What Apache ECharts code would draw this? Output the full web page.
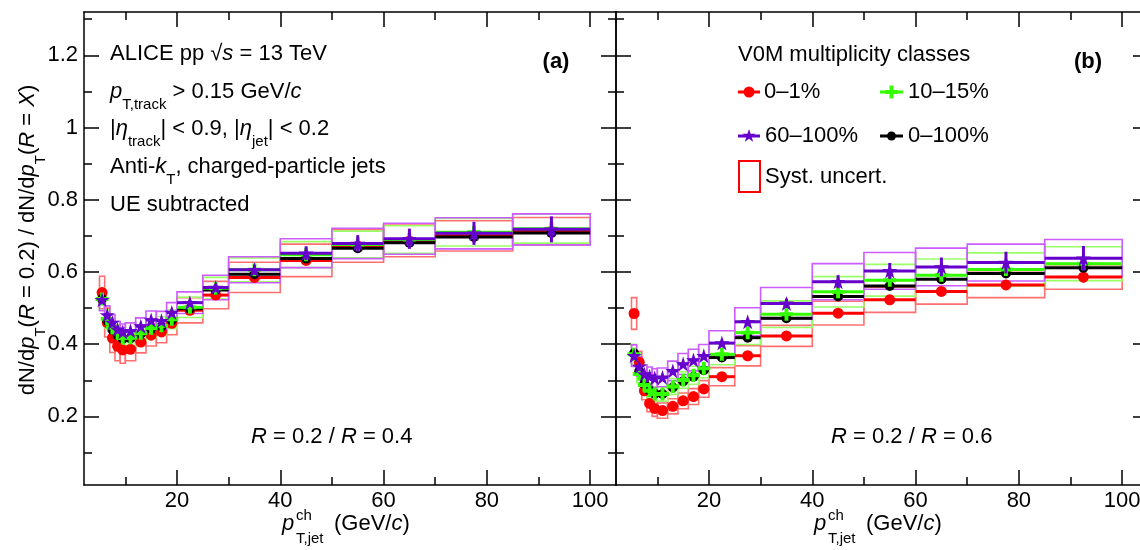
<!DOCTYPE html>
<html>
<head>
<meta charset="utf-8">
<script src="https://cdn.jsdelivr.net/npm/echarts@6/dist/echarts.min.js"></script>
<style>html,body{margin:0;padding:0;background:#fff}#c{width:1140px;height:550px}</style>
</head>
<body>
<div id="c"></div>
<script>
// ---------------- data ----------------
const binEdges = [5, 6, 7, 8, 9, 10, 12, 14, 16, 18, 20, 25, 30, 40, 50, 60, 70, 85, 100];
const binCenters = [5.5, 6.5, 7.5, 8.5, 9.5, 11, 13, 15, 17, 19, 22.5, 27.5, 35, 45, 55, 65, 77.5, 92.5];
const xTickValues = [20, 40, 60, 80, 100];
const xMinorTickValues = [10, 30, 50, 70, 90];
const yTickValues = [0.2, 0.4, 0.6, 0.8, 1, 1.2];
const yMinorTickValues = [0.1, 0.3, 0.5, 0.7, 0.9, 1.1, 1.3];
const classNames = ['0–1%', '10–15%', '60–100%', '0–100%'];

// Panel (a): R = 0.2 / R = 0.4
const redA    = [0.543, 0.460, 0.417, 0.394, 0.384, 0.386, 0.406, 0.425, 0.434, 0.458, 0.494, 0.536, 0.585, 0.632, 0.672, 0.686, 0.700, 0.713];
const greenA  = [0.525, 0.470, 0.446, 0.432, 0.417, 0.418, 0.430, 0.444, 0.451, 0.469, 0.502, 0.555, 0.606, 0.648, 0.676, 0.690, 0.710, 0.720];
const purpleA = [0.523, 0.481, 0.460, 0.441, 0.434, 0.437, 0.450, 0.467, 0.465, 0.488, 0.515, 0.557, 0.606, 0.652, 0.679, 0.692, 0.707, 0.718];
const blackA  = [0.525, 0.465, 0.440, 0.425, 0.415, 0.416, 0.428, 0.442, 0.449, 0.466, 0.498, 0.550, 0.594, 0.637, 0.666, 0.681, 0.697, 0.708];
const sysRedA    = [0.045, 0.040, 0.040, 0.040, 0.037, 0.032, 0.030, 0.030, 0.030, 0.032, 0.035, 0.038, 0.042, 0.045, 0.045, 0.044, 0.042, 0.038];
const sysGreenA  = [0.030, 0.025, 0.022, 0.022, 0.022, 0.022, 0.022, 0.024, 0.025, 0.026, 0.028, 0.030, 0.033, 0.036, 0.037, 0.038, 0.038, 0.040];
const sysPurpleA = [0.030, 0.025, 0.022, 0.022, 0.022, 0.022, 0.023, 0.025, 0.026, 0.027, 0.030, 0.034, 0.036, 0.040, 0.042, 0.043, 0.043, 0.043];
const statRedA    = [0.008, 0.006, 0.005, 0.005, 0.005, 0.005, 0.005, 0.006, 0.006, 0.007, 0.007, 0.008, 0.010, 0.012, 0.014, 0.016, 0.018, 0.020];
const statGreenA  = [0.004, 0.003, 0.003, 0.003, 0.003, 0.003, 0.003, 0.003, 0.004, 0.004, 0.004, 0.005, 0.006, 0.007, 0.008, 0.009, 0.010, 0.012];
const statPurpleA = [0.006, 0.005, 0.004, 0.004, 0.004, 0.004, 0.004, 0.005, 0.005, 0.006, 0.007, 0.009, 0.014, 0.019, 0.023, 0.028, 0.032, 0.036];
const statBlackA  = [0.002, 0.002, 0.001, 0.001, 0.001, 0.001, 0.001, 0.002, 0.002, 0.002, 0.002, 0.003, 0.003, 0.004, 0.005, 0.006, 0.007, 0.008];

// Panel (b): R = 0.2 / R = 0.6
const redB    = [0.485, 0.350, 0.271, 0.236, 0.222, 0.216, 0.228, 0.243, 0.255, 0.276, 0.310, 0.368, 0.423, 0.486, 0.523, 0.546, 0.564, 0.586];
const greenB  = [0.372, 0.317, 0.287, 0.271, 0.262, 0.262, 0.283, 0.301, 0.314, 0.333, 0.372, 0.432, 0.483, 0.545, 0.577, 0.591, 0.607, 0.623];
const purpleB = [0.368, 0.338, 0.317, 0.311, 0.306, 0.308, 0.326, 0.345, 0.356, 0.368, 0.403, 0.462, 0.513, 0.573, 0.603, 0.614, 0.626, 0.638];
const blackB  = [0.375, 0.325, 0.290, 0.272, 0.263, 0.262, 0.280, 0.297, 0.310, 0.328, 0.363, 0.418, 0.472, 0.532, 0.561, 0.580, 0.596, 0.612];
const sysRedB    = [0.044, 0.030, 0.025, 0.023, 0.022, 0.021, 0.021, 0.022, 0.022, 0.023, 0.025, 0.028, 0.029, 0.033, 0.035, 0.035, 0.035, 0.034];
const sysGreenB  = [0.028, 0.024, 0.022, 0.021, 0.020, 0.020, 0.022, 0.023, 0.025, 0.026, 0.029, 0.033, 0.037, 0.042, 0.044, 0.045, 0.046, 0.047];
const sysPurpleB = [0.030, 0.027, 0.026, 0.026, 0.026, 0.026, 0.027, 0.029, 0.030, 0.031, 0.034, 0.039, 0.044, 0.050, 0.051, 0.052, 0.051, 0.052];
const statRedB    = [0.008, 0.005, 0.004, 0.004, 0.004, 0.004, 0.004, 0.004, 0.005, 0.005, 0.006, 0.007, 0.008, 0.010, 0.011, 0.012, 0.013, 0.015];
const statGreenB  = [0.004, 0.003, 0.003, 0.003, 0.003, 0.003, 0.003, 0.003, 0.003, 0.004, 0.004, 0.005, 0.006, 0.007, 0.008, 0.009, 0.010, 0.011];
const statPurpleB = [0.006, 0.005, 0.004, 0.004, 0.004, 0.004, 0.004, 0.005, 0.005, 0.006, 0.007, 0.009, 0.013, 0.018, 0.022, 0.026, 0.030, 0.034];
const statBlackB  = [0.002, 0.002, 0.001, 0.001, 0.001, 0.001, 0.001, 0.002, 0.002, 0.002, 0.002, 0.003, 0.003, 0.004, 0.005, 0.006, 0.007, 0.008];

// ---------------- styles ----------------
const FONT = '"Liberation Sans", Arial, Helvetica, sans-serif';
const C_RED = '#ff0000', C_GREEN = '#33ff00', C_PURPLE = '#6600cc', C_BLACK = '#000000';
const B_RED = '#ff6f6f', B_GREEN = '#99ff66', B_PURPLE = '#cc5cff';
const STAR = 'M50,0L61.2,34.5L97.6,34.5L68.2,55.9L79.4,90.5L50,69.1L20.6,90.5L31.8,55.9L2.4,34.5L38.8,34.5Z';
const PLUS = 'M35,0H65V35H100V65H65V100H35V65H0V35H35Z';
const STAR_PTS = [[50,0],[61.2,34.5],[97.6,34.5],[68.2,55.9],[79.4,90.5],[50,69.1],[20.6,90.5],[31.8,55.9],[2.4,34.5],[38.8,34.5]];
const PLUS_PTS = [[35,0],[65,0],[65,35],[100,35],[100,65],[65,65],[65,100],[35,100],[35,65],[0,65],[0,35],[35,35]];
function iconPts(pts, cx, cy, size) {
  return pts.map(p => [cx - size / 2 + p[0] * size / 100, cy - size / 2 + p[1] * size / 100]);
}

const GRID_TOP = 12, GRID_H = 473, GRID_W = 532;
const grids = [
  {left: 84, top: GRID_TOP, width: GRID_W, height: GRID_H, outerBoundsMode: 'none', containLabel: false},
  {left: 616, top: GRID_TOP, width: GRID_W, height: GRID_H, outerBoundsMode: 'none', containLabel: false},
  {left: 84, top: GRID_TOP, width: GRID_W, height: GRID_H, outerBoundsMode: 'none', containLabel: false},
  {left: 616, top: GRID_TOP, width: GRID_W, height: GRID_H, outerBoundsMode: 'none', containLabel: false}
];

function axisCommon(gridIndex, position, min, max, ticks, len, showLine, showLabels, margin) {
  return {
    type: 'value', gridIndex, position, min, max,
    axisLine: {show: showLine, onZero: false, lineStyle: {color: '#000', width: 1.5}},
    axisTick: {show: true, inside: true, length: len, customValues: ticks, lineStyle: {color: '#000', width: 1.5}},
    axisLabel: {show: showLabels, customValues: ticks, fontSize: 22, fontFamily: FONT, color: '#000', margin},
    splitLine: {show: false}, minorTick: {show: false}, minorSplitLine: {show: false}
  };
}
const xAxes = [
  axisCommon(0, 'bottom', 2, 105, xTickValues, 15, true, true, 5),
  axisCommon(0, 'top', 2, 105, xTickValues, 15, true, false, 5),
  axisCommon(1, 'bottom', 2, 105, xTickValues, 15, true, true, 5),
  axisCommon(1, 'top', 2, 105, xTickValues, 15, true, false, 5),
  axisCommon(2, 'bottom', 2, 105, xMinorTickValues, 8, false, false, 5),
  axisCommon(2, 'top', 2, 105, xMinorTickValues, 8, false, false, 5),
  axisCommon(3, 'bottom', 2, 105, xMinorTickValues, 8, false, false, 5),
  axisCommon(3, 'top', 2, 105, xMinorTickValues, 8, false, false, 5)
];
const yAxes = [
  axisCommon(0, 'left', 0.01, 1.32, yTickValues, 15, true, true, 6),
  axisCommon(0, 'right', 0.01, 1.32, yTickValues, 15, true, false, 6),
  axisCommon(1, 'left', 0.01, 1.32, yTickValues, 15, true, false, 6),
  axisCommon(1, 'right', 0.01, 1.32, yTickValues, 15, true, false, 6),
  axisCommon(2, 'left', 0.01, 1.32, yMinorTickValues, 8, false, false, 6),
  axisCommon(2, 'right', 0.01, 1.32, yMinorTickValues, 8, false, false, 6),
  axisCommon(3, 'left', 0.01, 1.32, yMinorTickValues, 8, false, false, 6),
  axisCommon(3, 'right', 0.01, 1.32, yMinorTickValues, 8, false, false, 6)
];

function boxSeries(panel, vals, sys, color) {
  return {
    type: 'custom', xAxisIndex: panel * 2, yAxisIndex: panel * 2, clip: true, z: 2, silent: true,
    data: vals.map((v, i) => [binEdges[i], binEdges[i + 1], v, sys[i]]),
    encode: {x: [0, 1], y: 2},
    renderItem: (params, api) => {
      const a = api.coord([api.value(0), api.value(2) + api.value(3)]);
      const b = api.coord([api.value(1), api.value(2) - api.value(3)]);
      return {type: 'rect', shape: {x: a[0], y: a[1], width: b[0] - a[0], height: b[1] - a[1]},
        style: {fill: 'none', stroke: color, lineWidth: 1.6}};
    }
  };
}
function errSeries(panel, vals, stat, color, z) {
  return {
    type: 'custom', xAxisIndex: panel * 2, yAxisIndex: panel * 2, clip: true, z, silent: true,
    data: vals.map((v, i) => [binEdges[i], binEdges[i + 1], v, stat[i], binCenters[i]]),
    encode: {x: [0, 1], y: 2},
    renderItem: (params, api) => {
      const y = api.value(2), s = api.value(3), xc = api.value(4);
      const l = api.coord([api.value(0), y]);
      const r = api.coord([api.value(1), y]);
      const t = api.coord([xc, y + s]);
      const b = api.coord([xc, y - s]);
      return {type: 'group', children: [
        {type: 'line', shape: {x1: l[0], y1: l[1], x2: r[0], y2: r[1]}, style: {stroke: color, lineWidth: 3}},
        {type: 'line', shape: {x1: t[0], y1: t[1], x2: b[0], y2: b[1]}, style: {stroke: color, lineWidth: 3}}
      ]};
    }
  };
}
function markerSeries(panel, vals, symbol, size, color, z) {
  return {
    type: 'scatter', xAxisIndex: panel * 2, yAxisIndex: panel * 2, z, silent: true,
    symbol, symbolSize: size, itemStyle: {color, opacity: 1},
    data: binCenters.map((x, i) => [x, vals[i]])
  };
}

const panels = [
  {red: redA, green: greenA, purple: purpleA, black: blackA,
   sR: sysRedA, sG: sysGreenA, sP: sysPurpleA,
   tR: statRedA, tG: statGreenA, tP: statPurpleA, tB: statBlackA},
  {red: redB, green: greenB, purple: purpleB, black: blackB,
   sR: sysRedB, sG: sysGreenB, sP: sysPurpleB,
   tR: statRedB, tG: statGreenB, tP: statPurpleB, tB: statBlackB}
];
const series = [];
panels.forEach((p, k) => {
  series.push(boxSeries(k, p.red, p.sR, B_RED));
  series.push(boxSeries(k, p.green, p.sG, B_GREEN));
  series.push(boxSeries(k, p.purple, p.sP, B_PURPLE));
  series.push(errSeries(k, p.red, p.tR, C_RED, 3));
  series.push(markerSeries(k, p.red, 'circle', 11, C_RED, 4));
  series.push(errSeries(k, p.black, p.tB, C_BLACK, 5));
  series.push(markerSeries(k, p.black, 'circle', 10, C_BLACK, 6));
  series.push(errSeries(k, p.green, p.tG, C_GREEN, 7));
  series.push(markerSeries(k, p.green, 'path://' + PLUS, 13, C_GREEN, 8));
  series.push(errSeries(k, p.purple, p.tP, C_PURPLE, 9));
  series.push(markerSeries(k, p.purple, 'path://' + STAR, 15, C_PURPLE, 10));
});

// ---------------- texts ----------------
const RICH = {
  i: {fontStyle: 'italic', fontSize: 22, fontFamily: FONT, lineHeight: 40, fill: '#000'},
  s: {fontSize: 15, fontFamily: FONT, lineHeight: 15, verticalAlign: 'bottom', fill: '#000'}
};
function txt(x, y, text, extra) {
  return Object.assign({type: 'text', x, y, z: 100, silent: true,
    style: Object.assign({text, fill: '#000', fontSize: 22, fontFamily: FONT, lineHeight: 40,
      align: 'left', verticalAlign: 'middle', textAlign: 'left', textVerticalAlign: 'middle', rich: RICH},
      extra && extra.style)}, extra && extra.el);
}
const graphics = [
  txt(110, 54, 'ALICE pp √{i|s} = 13 TeV'),
  txt(110, 92, '{i|p}{s|T,track} > 0.15 GeV/{i|c}'),
  txt(110, 129, '|{i|η}{s|track}| < 0.9, |{i|η}{s|jet}| < 0.2'),
  txt(110, 167, 'Anti-{i|k}{s|T}, charged-particle jets'),
  txt(110, 205, 'UE subtracted'),
  txt(556, 62, '(a)', {style: {fontWeight: 'bold', align: 'center', textAlign: 'center'}}),
  txt(1088, 62, '(b)', {style: {fontWeight: 'bold', align: 'center', textAlign: 'center'}}),
  txt(251, 437, '{i|R} = 0.2 / {i|R} = 0.4'),
  txt(831, 437, '{i|R} = 0.2 / {i|R} = 0.6'),
  // y-axis title
  txt(28, 240, 'dN/d{i|p}{s|T}({i|R} = 0.2) / dN/d{i|p}{s|T}({i|R} = {i|X})',
      {style: {align: 'center', textAlign: 'center'}, el: {rotation: Math.PI / 2}}),
  // legend
  txt(738, 55, 'V0M multiplicity classes'),
  txt(764, 92, classNames[0]),
  txt(908, 92, classNames[1]),
  txt(765, 136, classNames[2]),
  txt(908, 136, classNames[3]),
  txt(765, 177, 'Syst. uncert.'),
  {type: 'line', z: 100, shape: {x1: 738, y1: 92, x2: 760, y2: 92}, style: {stroke: C_RED, lineWidth: 3}},
  {type: 'circle', z: 101, shape: {cx: 749, cy: 92, r: 5.5}, style: {fill: C_RED}},
  {type: 'line', z: 100, shape: {x1: 880, y1: 92, x2: 903, y2: 92}, style: {stroke: C_GREEN, lineWidth: 3}},
  {type: 'polygon', z: 101, shape: {points: iconPts(PLUS_PTS, 891.5, 92, 13)}, style: {fill: C_GREEN}},
  {type: 'line', z: 100, shape: {x1: 738, y1: 136, x2: 760, y2: 136}, style: {stroke: C_PURPLE, lineWidth: 3}},
  {type: 'polygon', z: 101, shape: {points: iconPts(STAR_PTS, 749, 136, 14)}, style: {fill: C_PURPLE}},
  {type: 'line', z: 100, shape: {x1: 880, y1: 136, x2: 903, y2: 136}, style: {stroke: C_BLACK, lineWidth: 3}},
  {type: 'circle', z: 101, shape: {cx: 891.5, cy: 136, r: 4.5}, style: {fill: C_BLACK}},
  {type: 'rect', z: 100, shape: {x: 739, y: 161, width: 21, height: 31}, style: {fill: 'none', stroke: C_RED, lineWidth: 2}}
];
// x-axis titles
[0, 532].forEach(dx => {
  graphics.push(txt(282 + dx, 524, 'p', {style: {fontStyle: 'italic'}}));
  graphics.push(txt(296 + dx, 516, 'ch', {style: {fontSize: 15, lineHeight: 15}}));
  graphics.push(txt(296 + dx, 539, 'T,jet', {style: {fontSize: 15, lineHeight: 15}}));
  graphics.push(txt(334 + dx, 524, '(GeV/{i|c})'));
});

const chart = echarts.init(document.getElementById('c'), null, {renderer: 'canvas'});
chart.setOption({
  backgroundColor: '#fff',
  animation: false,
  grid: grids,
  xAxis: xAxes,
  yAxis: yAxes,
  series,
  graphic: graphics
});
</script>
</body>
</html>
